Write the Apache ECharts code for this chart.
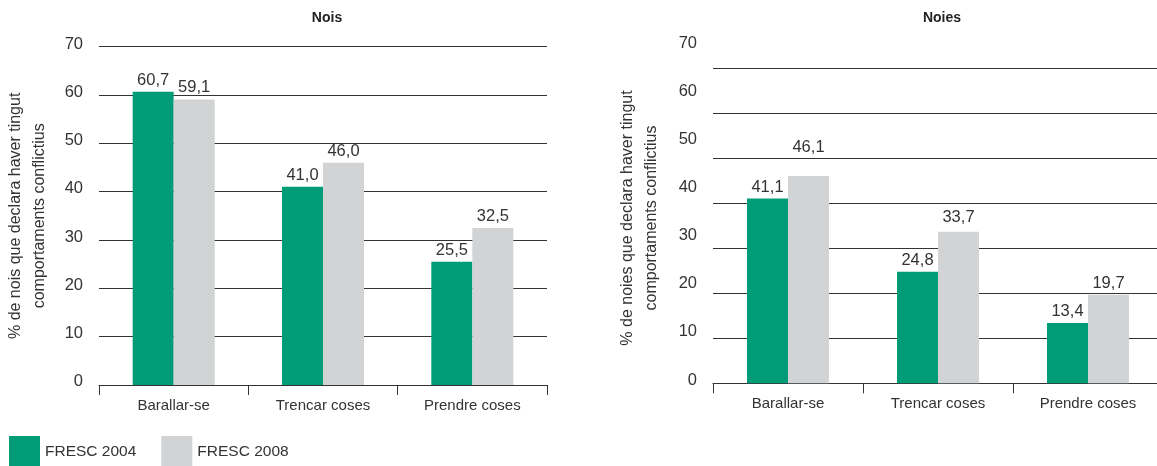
<!DOCTYPE html>
<html><head><meta charset="utf-8">
<script src="https://cdn.jsdelivr.net/npm/echarts@6/dist/echarts.min.js"></script>
<style>html,body{margin:0;padding:0;background:#fff}#c{width:1157px;height:466px}</style>
</head><body><div id="c"></div>
<script>
const categories = ['Barallar-se', 'Trencar coses', 'Prendre coses'];
const seriesNames = ['FRESC 2004', 'FRESC 2008'];
const nois2004 = [60.7, 41.0, 25.5];
const nois2008 = [59.1, 46.0, 32.5];
const noies2004 = [41.1, 24.8, 13.4];
const noies2008 = [46.1, 33.7, 19.7];
const titles = ['Nois', 'Noies'];
const yTitles = ['% de nois que declara haver tingut\ncomportaments conflictius',
                 '% de noies que declara haver tingut\ncomportaments conflictius'];

const GREEN = '#009b77', GRAY = '#d1d3d4', FONT = 'Liberation Sans', TXT = '#333';
const fmt = v => v.toFixed(1).replace('.', ',');
// extra lift (px) of single value labels, as in the reference
const labelLift = {3: {0: 17, 1: 3}};

const chart = echarts.init(document.getElementById('c'));
const grids = [
  {left: 99, right: 610, top: 46.7, bottom: 81},     // Nois bars
  {left: 713, right: -6, top: 68.7, bottom: 82.7},   // Noies bars
  {left: 99, right: 610, top: 44.3, bottom: 84.3},   // Nois tick labels
  {left: 713, right: -6, top: 43.3, bottom: 86}      // Noies tick labels
].map(g => Object.assign(g, {outerBoundsMode: 'none', containLabel: false}));
const xAxes = [0,1,2,3].map(i => ({
  type: 'category', gridIndex: i, data: categories,
  show: i < 2,
  axisLine: {lineStyle: {color: TXT, width: 1}},
  axisTick: {show: true, length: 10, lineStyle: {color: TXT}},
  axisLabel: {color: TXT, fontFamily: FONT, fontSize: 15, margin: 13}
}));
const yAxes = [0,1,2,3].map(i => ({
  type: 'value', gridIndex: i, min: 0, max: 70, interval: 10,
  axisLine: {show: false}, axisTick: {show: false},
  splitLine: {show: i < 2, lineStyle: {color: '#333', width: 1}},
  axisLabel: {show: i >= 2, color: TXT, fontFamily: FONT, fontSize: 16.5, margin: 16},
  name: i < 2 ? yTitles[i] : '', nameLocation: 'middle', nameRotate: 90,
  nameGap: i === 0 ? 47 : 49,
  nameTextStyle: {color: TXT, fontFamily: FONT, fontSize: 16, lineHeight: 24,
                  padding: i === 1 ? [0, 0, 0, 16] : 0}
}));
const mk = (name, data, color, gi, si) => ({
  type: 'bar', name, xAxisIndex: gi, yAxisIndex: gi,
  data: data.map((v, k) => {
    const lift = (labelLift[si] || {})[k];
    return lift ? {value: v, label: {distance: 3 + lift}} : v;
  }),
  barWidth: 41, barGap: '0%',
  itemStyle: {color},
  label: {show: true, position: 'top', distance: 3, color: TXT, fontFamily: FONT, fontSize: 16.5,
          formatter: p => fmt(p.value)}
});
chart.setOption({
  animation: false,
  title: [
    {text: titles[0], left: 322, top: 6, textAlign: 'center',
     textStyle: {fontFamily: FONT, fontSize: 14, fontWeight: 'bold', color: '#222'}},
    {text: titles[1], left: 937, top: 6, textAlign: 'center',
     textStyle: {fontFamily: FONT, fontSize: 14, fontWeight: 'bold', color: '#222'}}
  ],
  legend: {
    left: 9, top: 436, itemWidth: 31, itemHeight: 31, itemGap: 25,
    icon: 'rect', data: seriesNames, padding: 0,
    textStyle: {color: TXT, fontFamily: FONT, fontSize: 15.5, padding: [3, 0, 0, 0]}
  },
  grid: grids, xAxis: xAxes, yAxis: yAxes,
  series: [
    mk(seriesNames[0], nois2004, GREEN, 0, 0),
    mk(seriesNames[1], nois2008, GRAY, 0, 1),
    mk(seriesNames[0], noies2004, GREEN, 1, 2),
    mk(seriesNames[1], noies2008, GRAY, 1, 3)
  ]
});
</script></body></html>
